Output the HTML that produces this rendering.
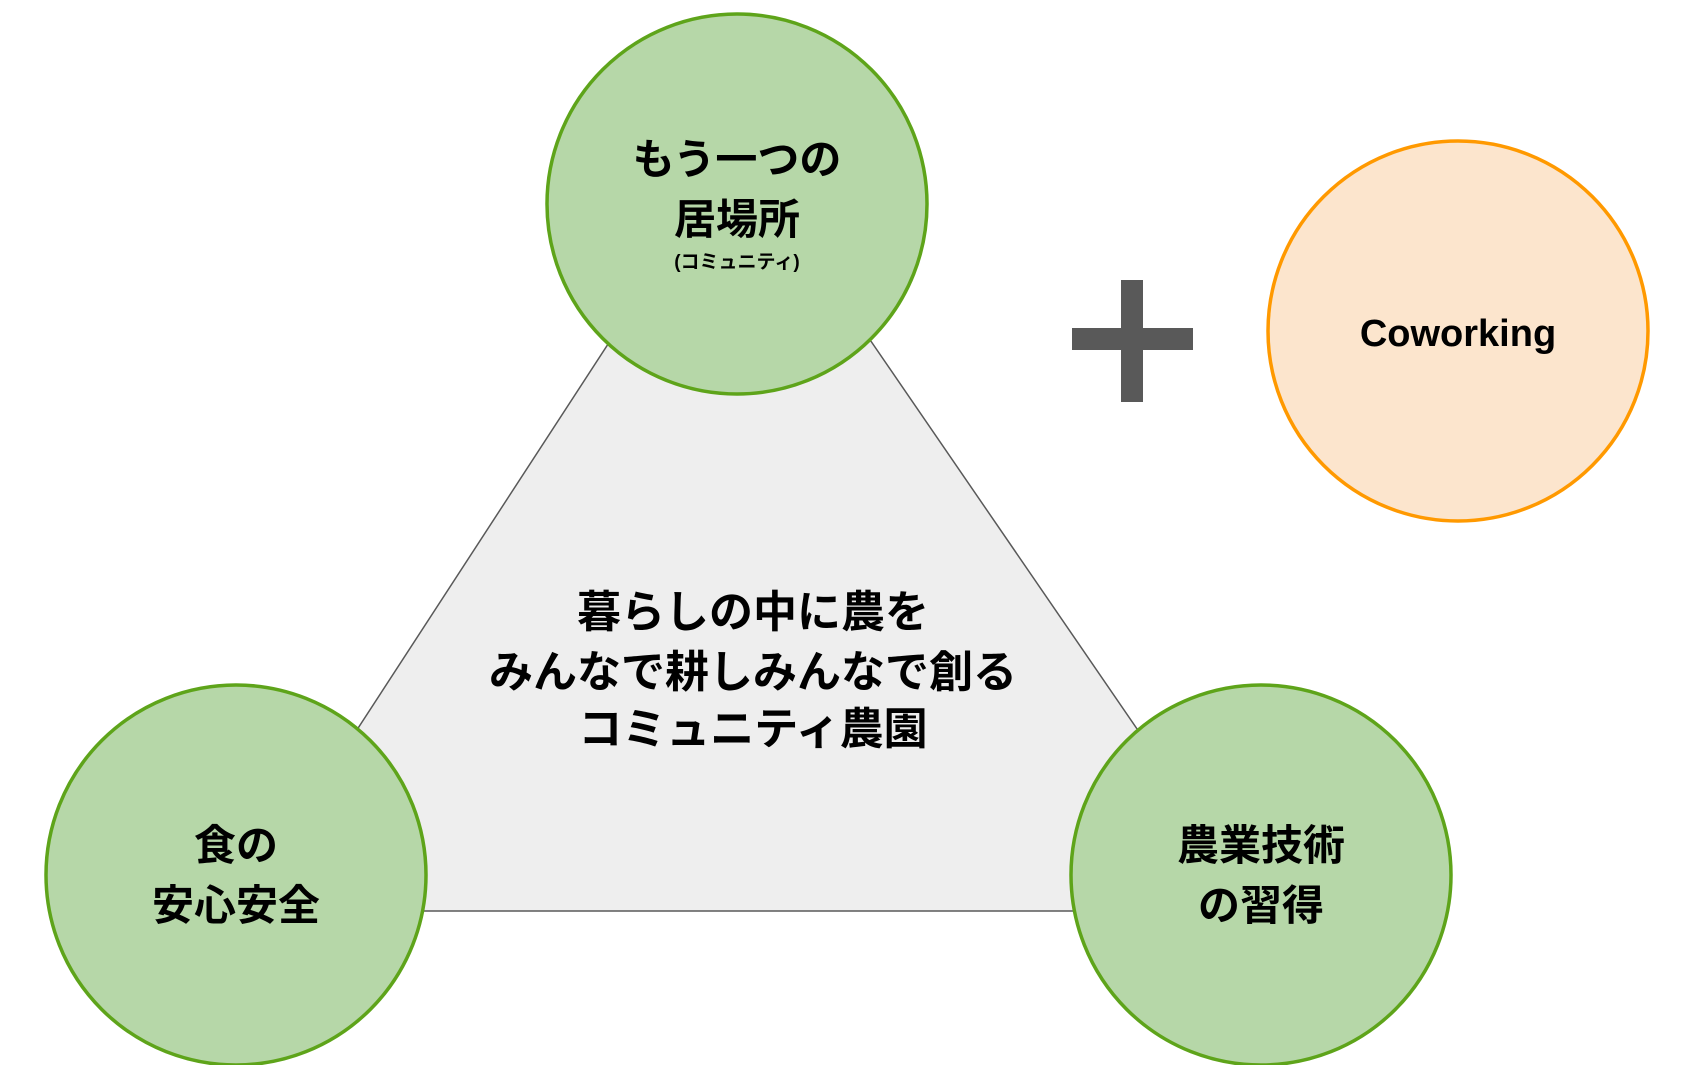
<!DOCTYPE html>
<html><head><meta charset="utf-8"><style>
body{margin:0;background:#fff}
svg text{font-family:"Liberation Sans","Noto Sans CJK JP",sans-serif;font-weight:bold;fill:#000;text-anchor:middle}
</style></head><body>
<svg width="1708" height="1065" viewBox="0 0 1708 1065" xmlns="http://www.w3.org/2000/svg">
<polygon points="737,146 239,911 1262,911" fill="#eeeeee" stroke="#595959" stroke-width="1.5"/>
<circle cx="737" cy="204" r="190" fill="#b6d7a8" stroke="#5ea41a" stroke-width="3.5"/>
<circle cx="236" cy="875" r="190" fill="#b6d7a8" stroke="#5ea41a" stroke-width="3.5"/>
<circle cx="1261" cy="875" r="190" fill="#b6d7a8" stroke="#5ea41a" stroke-width="3.5"/>
<circle cx="1458" cy="331" r="190" fill="#fce5cd" stroke="#ff9900" stroke-width="3.5"/>
<rect x="1121" y="280" width="22" height="122" fill="#595959"/>
<rect x="1072" y="328" width="121" height="22" fill="#595959"/>
<text x="737" y="174" font-size="42">もう一つの</text>
<text x="737" y="234" font-size="42">居場所</text>
<text x="737" y="268" font-size="19">(コミュニティ)</text>
<text x="236" y="860" font-size="42">食の</text>
<text x="236" y="920" font-size="42">安心安全</text>
<text x="1261" y="860" font-size="42">農業技術</text>
<text x="1261" y="920" font-size="42">の習得</text>
<text x="1458" y="346" font-size="38">Coworking</text>
<text x="753" y="627" font-size="44">暮らしの中に農を</text>
<text x="753" y="687" font-size="44">みんなで耕しみんなで創る</text>
<text x="753" y="744" font-size="44">コミュニティ農園</text>
</svg>
</body></html>
